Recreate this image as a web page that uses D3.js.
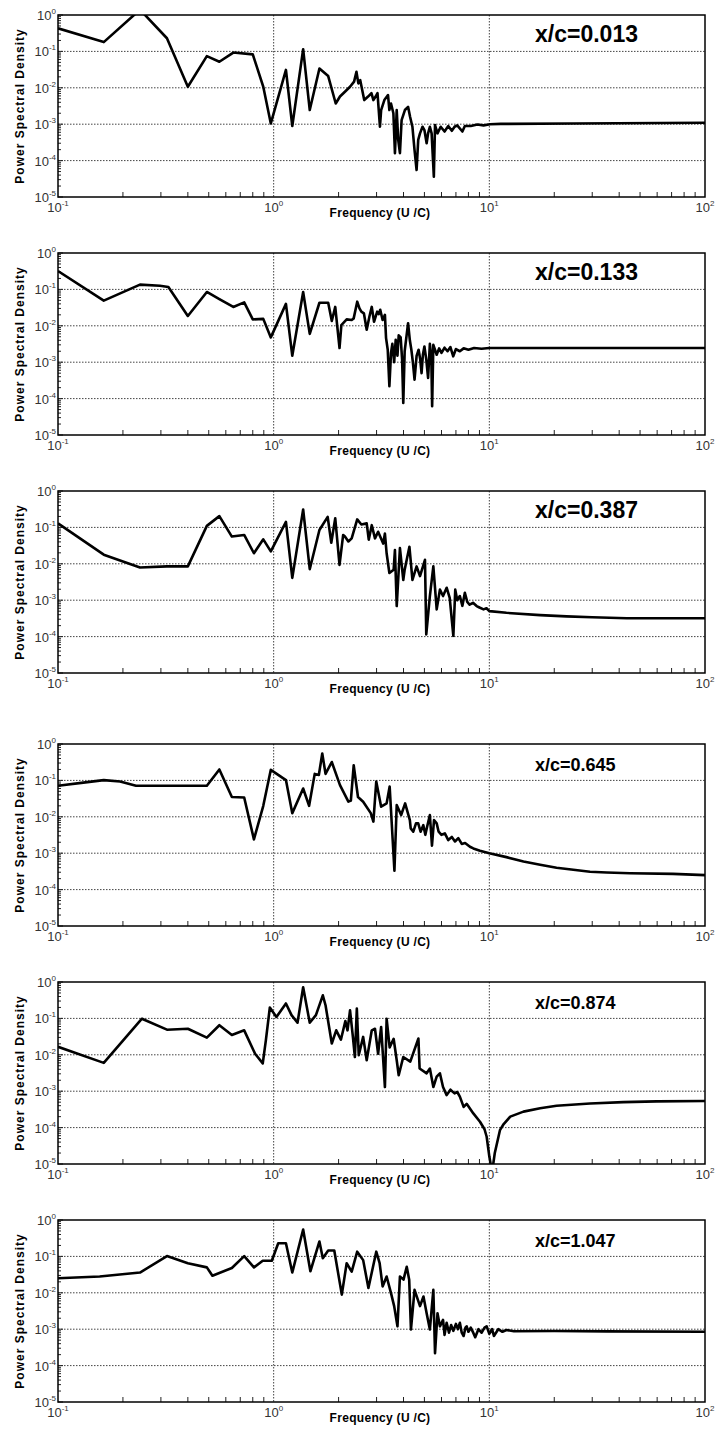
<!DOCTYPE html>
<html>
<head>
<meta charset="utf-8" />
<title>Power spectral density</title>
<script src="https://cdn.jsdelivr.net/npm/d3@7"></script>
<style>
  body { margin: 0; padding: 0; background: #fff; }
  svg { display: block; font-family: "Liberation Sans", Arial, sans-serif; }
</style>
</head>
<body>
<div id="chart"></div>
<script>

// station labels, one per panel
const stations = ['x/c=0.013', 'x/c=0.133', 'x/c=0.387', 'x/c=0.645', 'x/c=0.874', 'x/c=1.047']

// x/c = 0.013
const f013 = [0.1, 0.163, 0.24, 0.32, 0.40, 0.49, 0.56, 0.65, 0.80, 0.895, 0.97, 1.14, 1.22, 1.37, 1.47, 1.63, 1.79, 1.94,
  2.03, 2.14, 2.26, 2.36, 2.42, 2.47, 2.52, 2.63, 2.74, 2.84, 2.90, 2.97, 3.03, 3.11, 3.15, 3.26, 3.39, 3.44, 3.5, 3.59,
  3.65, 3.72, 3.78, 3.85, 3.92, 4.06, 4.2, 4.29, 4.4, 4.5, 4.6, 4.68, 4.77, 4.9, 5.0, 5.12, 5.2, 5.3, 5.4, 5.53, 5.6,
  5.75, 5.95, 6.2, 6.45, 6.7, 6.9, 7.1, 7.5, 7.7, 8.2, 8.8, 9.4, 10.07, 11.3, 24.5, 100]
const p013 = [0.43, 0.18, 1.4, 0.23, 0.0107, 0.074, 0.052, 0.093, 0.083, 0.0107, 1.05e-3, 0.031, 8.9e-4, 0.115, 2.45e-3, 0.034, 0.021, 3.7e-3,
  5.75e-3, 7.8e-3, 0.0107, 0.0148, 0.0275, 0.0132, 0.0162, 4.6e-3, 5.75e-3, 7.1e-3, 4.6e-3, 5.75e-3, 7.1e-3, 8.5e-4, 2.45e-3, 4.6e-3, 6.3e-3, 2.45e-3, 3.7e-3, 2.0e-3,
  1.6e-4, 2.45e-3, 3.7e-4, 1.6e-4, 1.3e-3, 2.45e-3, 3.0e-3, 1.6e-3, 8.5e-4, 1.95e-4, 5.5e-5, 3.7e-4, 5.6e-4, 8.5e-4, 6.9e-4, 3.0e-4, 5.6e-4, 8.5e-4, 5.6e-4, 3.6e-5, 9.5e-4,
  5.6e-4, 8.5e-4, 6.3e-4, 8.9e-4, 6.6e-4, 8.5e-4, 9.3e-4, 6.3e-4, 8.9e-4, 8.9e-4, 9.8e-4, 9.3e-4, 1.0e-3, 1.02e-3, 1.05e-3, 1.1e-3]

// x/c = 0.133
const f133 = [0.1, 0.163, 0.24, 0.297, 0.325, 0.40, 0.49, 0.56, 0.65, 0.73, 0.80, 0.895, 0.97, 1.14, 1.22, 1.37, 1.47, 1.63, 1.79, 1.86, 1.93,
  2.02, 2.06, 2.18, 2.3, 2.35, 2.44, 2.5, 2.55, 2.62, 2.70, 2.78, 2.85, 2.92, 3.02, 3.07, 3.12, 3.2, 3.28, 3.32, 3.38, 3.44, 3.5, 3.55,
  3.62, 3.68, 3.75, 3.8, 3.88, 3.94, 3.99, 4.05, 4.2, 4.28, 4.35, 4.42, 4.5, 4.6, 4.7, 4.78, 4.85, 4.92, 5.0, 5.1, 5.2, 5.3, 5.38, 5.43,
  5.5, 5.7, 5.85, 6.0, 6.2, 6.4, 6.6, 6.8, 7.0, 7.3, 7.6, 8.0, 8.5, 9.2, 10, 100]
const p133 = [0.32, 0.049, 0.135, 0.126, 0.117, 0.0186, 0.085, 0.054, 0.033, 0.044, 0.015, 0.0155, 4.8e-3, 0.040, 1.5e-3, 0.085, 6.0e-3, 0.043, 0.043, 0.0135, 0.033,
  2.45e-3, 0.0105, 0.015, 0.0145, 0.016, 0.046, 0.03, 0.0245, 0.022, 7.8e-3, 0.018, 0.033, 0.0129, 0.0245, 0.021, 0.0275, 0.0145, 0.02, 4.6e-3, 2.2e-3, 2.2e-4, 1.8e-3, 3.2e-3,
  1.0e-3, 4.1e-3, 1.5e-3, 5.5e-3, 4.8e-3, 1.2e-3, 7.6e-5, 2.0e-3, 0.0118, 4.0e-3, 2.2e-3, 1.0e-3, 3.3e-4, 1.5e-3, 2.2e-3, 1.2e-3, 5e-4, 1.6e-3, 2.7e-3, 1.2e-3, 3.7e-4, 3.2e-3, 1.5e-3, 6.2e-5,
  3.0e-3, 1.6e-3, 2.4e-3, 1.8e-3, 2.5e-3, 2.0e-3, 2.6e-3, 1.45e-3, 2.3e-3, 2.0e-3, 2.4e-3, 2.2e-3, 2.45e-3, 2.35e-3, 2.45e-3, 2.45e-3]

// x/c = 0.387
const f387 = [0.1, 0.163, 0.24, 0.32, 0.40, 0.49, 0.56, 0.64, 0.73, 0.81, 0.895, 0.97, 1.14, 1.22, 1.37, 1.47, 1.63, 1.78, 1.85, 1.93,
  2.02, 2.10, 2.14, 2.22, 2.3, 2.44, 2.55, 2.70, 2.76, 2.85, 2.95, 3.05, 3.22, 3.28, 3.34, 3.44, 3.6, 3.65, 3.72, 3.85, 3.99, 4.05,
  4.26, 4.4, 4.6, 4.77, 5.03, 5.1, 5.3, 5.5, 5.7, 5.9, 6.1, 6.34, 6.55, 6.81, 6.95, 7.1, 7.3, 7.5, 7.7, 7.9, 8.1, 8.4, 8.73, 9.0,
  9.4, 9.7, 10, 12, 17.2, 22.8, 30, 43.4, 100]
const p387 = [0.129, 0.0178, 7.9e-3, 8.5e-3, 8.5e-3, 0.11, 0.204, 0.056, 0.062, 0.0195, 0.047, 0.022, 0.141, 4.1e-3, 0.31, 7.1e-3, 0.085, 0.195, 0.038, 0.178,
  9.3e-3, 0.062, 0.056, 0.041, 0.05, 0.166, 0.12, 0.129, 0.046, 0.115, 0.05, 0.076, 0.036, 0.068, 0.0195, 5.6e-3, 6.9e-3, 0.024, 6.9e-4, 0.027, 3.6e-3, 6.9e-3,
  0.0295, 3.6e-3, 8.5e-3, 4.6e-3, 0.0129, 1.15e-4, 1.3e-3, 8.5e-3, 5.6e-4, 1.95e-3, 1.3e-3, 2.2e-3, 1.15e-3, 1.05e-4, 1.95e-3, 1.0e-3, 1.3e-3, 7e-4, 1.6e-3, 9e-4, 7.5e-4, 8.5e-4, 6.9e-4, 6.3e-4,
  5.6e-4, 6e-4, 5e-4, 4.5e-4, 3.9e-4, 3.6e-4, 3.4e-4, 3.2e-4, 3.2e-4]

// x/c = 0.645
const f645 = [0.1, 0.131, 0.163, 0.194, 0.23, 0.32, 0.49, 0.56, 0.64, 0.73, 0.81, 0.895, 0.97, 1.14, 1.22, 1.37, 1.46, 1.55, 1.62, 1.68, 1.74, 1.86,
  2.03, 2.22, 2.28, 2.35, 2.46, 2.6, 2.82, 2.9, 2.99, 3.15, 3.34, 3.45, 3.63, 3.72, 3.9, 4.07, 4.28, 4.32, 4.44, 4.57, 4.68, 4.8, 4.94,
  5.05, 5.15, 5.3, 5.42, 5.54, 5.7, 5.82, 6.0, 6.22, 6.45, 6.7, 6.93, 7.18, 7.45, 7.72, 8.13, 8.43, 9.05,
  10, 12, 14.4, 17.2, 20.5, 24.5, 29.3, 35, 44.9, 71, 100]
const p645 = [0.071, 0.087, 0.102, 0.093, 0.071, 0.071, 0.071, 0.2, 0.035, 0.034, 2.4e-3, 0.02, 0.195, 0.102, 0.0126, 0.06, 0.02, 0.151, 0.141, 0.55, 0.151, 0.32,
  0.074, 0.026, 0.028, 0.26, 0.035, 0.026, 0.0126, 7.4e-3, 0.093, 0.019, 0.0234, 0.068, 3.3e-4, 0.021, 0.0112, 0.0234, 8.1e-3, 4.8e-3, 3.9e-3, 6.6e-3, 6.6e-3, 3.9e-3, 5.9e-3,
  3.2e-3, 5.4e-3, 0.0112, 1.6e-3, 8.1e-3, 6.6e-3, 3.9e-3, 3.2e-3, 3.5e-3, 2.3e-3, 2.8e-3, 2.1e-3, 2.6e-3, 1.8e-3, 1.9e-3, 1.5e-3, 1.35e-3, 1.17e-3,
  1e-3, 7.8e-4, 5.9e-4, 4.8e-4, 4.0e-4, 3.5e-4, 3.1e-4, 2.95e-4, 2.8e-4, 2.7e-4, 2.5e-4]

// x/c = 0.874
const f874 = [0.1, 0.163, 0.245, 0.32, 0.40, 0.49, 0.56, 0.64, 0.73, 0.82, 0.89, 0.92, 0.96, 1.03, 1.14, 1.21, 1.29, 1.37, 1.47, 1.57, 1.69, 1.74, 1.86, 1.95,
  2.05, 2.15, 2.2, 2.26, 2.33, 2.38, 2.43, 2.48, 2.6, 2.70, 2.85, 2.95, 3.05, 3.15, 3.28, 3.34, 3.45, 3.6, 3.72, 3.8, 3.99, 4.3, 4.69, 4.75, 5.12,
  5.3, 5.5, 5.7, 5.9, 6.1, 6.34, 6.6, 6.9, 7.1, 7.3, 7.6, 7.85, 8.43, 9.05, 9.5, 9.72, 10.0, 10.3, 10.6, 11.2, 11.6, 12.5, 14.4, 17.2, 20.5, 29.3, 41.8, 59.6, 100]
const p874 = [0.0166, 6.0e-3, 0.098, 0.049, 0.052, 0.0295, 0.065, 0.035, 0.047, 0.0107, 5.8e-3, 0.025, 0.2, 0.11, 0.257, 0.123, 0.076, 0.72, 0.076, 0.123, 0.43, 0.23, 0.0204, 0.047,
  0.026, 0.085, 0.047, 0.166, 0.031, 8.7e-3, 0.186, 9.8e-3, 0.031, 7.1e-3, 0.047, 0.052, 0.0107, 0.058, 1.3e-3, 0.098, 0.016, 0.0275, 7.1e-3, 2.75e-3, 8.7e-3, 6.5e-3, 0.028, 4.2e-3, 3.1e-3,
  4.2e-3, 1.3e-3, 2.5e-3, 3.1e-3, 1.3e-3, 7.8e-4, 1.1e-3, 8.7e-4, 9.5e-4, 7.1e-4, 3.7e-4, 4.5e-4, 2.45e-4, 1.45e-4, 9e-5, 5.6e-5, 1.6e-5, 6e-6, 2e-5, 8.5e-5, 1.2e-4, 2.0e-4, 2.75e-4, 3.4e-4, 4.0e-4, 4.6e-4, 5.0e-4, 5.25e-4, 5.4e-4]

// x/c = 1.047
const f1047 = [0.1, 0.156, 0.24, 0.32, 0.40, 0.49, 0.52, 0.64, 0.73, 0.81, 0.89, 0.98, 1.05, 1.14, 1.22, 1.37, 1.48, 1.63, 1.69, 1.79, 1.91,
  2.07, 2.18, 2.3, 2.44, 2.6, 2.75, 2.99, 3.1, 3.2, 3.34, 3.5, 3.62, 3.75, 3.85, 4.0, 4.14, 4.25, 4.33, 4.5, 4.77, 4.95, 5.12, 5.3, 5.5, 5.6,
  5.75, 5.9, 6.1, 6.2, 6.34, 6.5, 6.65, 6.81, 7.0, 7.15, 7.3, 7.45, 7.6, 7.75, 7.85, 8.0, 8.2, 8.43, 8.6, 8.9, 9.2, 9.5, 9.72, 10.0, 10.3, 10.5,
  11, 11.5, 12, 13, 20, 35, 100]
const p1047 = [0.025, 0.028, 0.036, 0.102, 0.065, 0.05, 0.0295, 0.048, 0.102, 0.05, 0.076, 0.076, 0.23, 0.23, 0.036, 0.55, 0.039, 0.257, 0.089, 0.145, 0.145,
  8.9e-3, 0.065, 0.038, 0.135, 0.079, 0.0135, 0.135, 0.065, 0.015, 0.028, 9.8e-3, 4.3e-3, 1.2e-3, 0.028, 0.023, 0.052, 0.023, 9.8e-4, 0.012, 4.3e-3, 7.9e-3, 2.75e-3, 9.8e-4, 0.012, 2.2e-4,
  2.75e-3, 1.2e-3, 1.8e-3, 7e-4, 1.5e-3, 8e-4, 1.3e-3, 9e-4, 1.4e-3, 1.0e-3, 1.5e-3, 8e-4, 6.5e-4, 1.1e-3, 1.2e-3, 8.5e-4, 1.1e-3, 7.9e-4, 6.0e-4, 1.0e-3, 8e-4, 1.1e-3, 1.2e-3, 7.5e-4, 1.0e-3, 6.5e-4,
  1.0e-3, 8.5e-4, 9.5e-4, 8.8e-4, 8.9e-4, 8.7e-4, 8.5e-4]

const freqs = [f013, f133, f387, f645, f874, f1047]
const psds = [p013, p133, p387, p645, p874, p1047]

// major ticks (decades)
const xTicks = [0.1, 1, 10, 100]
const yTicks = [1e-5, 1e-4, 1e-3, 1e-2, 1e-1, 1]

// layout
const W = 716, H = 1429
const left = 58, right = 705, ph = 182
const tops = [15, 253, 491, 744, 982, 1220]
const labelSize = [23, 23, 23, 18, 18, 18]

const svg = d3.select('#chart').append('svg')
  .attr('width', W)
  .attr('height', H)

const x = d3.scaleLog().domain([0.1, 100]).range([left, right])

const expOf = v => Math.round(Math.log10(v))
const isMinor = v => Math.abs(Math.log10(v) - expOf(v)) > 1e-6

tops.forEach((top, i) => {
  const bottom = top + ph
  const y = d3.scaleLog().domain([1e-5, 1]).range([bottom, top])
  const g = svg.append('g')

  g.append('clipPath').attr('id', 'clip' + i)
    .append('rect')
    .attr('x', left).attr('y', top)
    .attr('width', right - left).attr('height', ph)

  // dotted grid at decades
  g.selectAll('.hgrid')
    .data(yTicks.slice(1, -1))
    .enter().append('line')
      .attr('x1', left).attr('x2', right)
      .attr('y1', d => y(d)).attr('y2', d => y(d))
      .attr('stroke', '#444')
      .attr('stroke-width', 1)
      .attr('stroke-dasharray', '1.5,1.5')
  g.selectAll('.vgrid')
    .data(xTicks.slice(1, -1))
    .enter().append('line')
      .attr('x1', d => x(d)).attr('x2', d => x(d))
      .attr('y1', top).attr('y2', bottom)
      .attr('stroke', '#444')
      .attr('stroke-width', 1)
      .attr('stroke-dasharray', '1.5,1.5')

  // minor ticks on the bottom axis (pointing up) and on the left (pointing right)
  g.selectAll('.xminor')
    .data(x.ticks().filter(isMinor))
    .enter().append('line')
      .attr('x1', d => x(d)).attr('x2', d => x(d))
      .attr('y1', bottom).attr('y2', bottom - 5)
      .attr('stroke', '#222')
      .attr('stroke-width', 1)
  g.selectAll('.yminor')
    .data(y.ticks())
    .enter().append('line')
      .attr('x1', left).attr('x2', d => left + (isMinor(d) ? 3 : 5))
      .attr('y1', d => y(d)).attr('y2', d => y(d))
      .attr('stroke', '#222')
      .attr('stroke-width', 1)

  // data
  const pts = freqs[i].map((f, k) => [f, psds[i][k]])
  g.append('path')
    .datum(pts)
    .attr('clip-path', 'url(#clip' + i + ')')
    .attr('fill', 'none')
    .attr('stroke', '#000')
    .attr('stroke-width', 2.6)
    .attr('stroke-linejoin', 'round')
    .attr('d', d3.line().x(d => x(d[0])).y(d => y(d[1])))

  // frame
  g.append('rect')
    .attr('x', left).attr('y', top)
    .attr('width', right - left).attr('height', ph)
    .attr('fill', 'none')
    .attr('stroke', '#000')
    .attr('stroke-width', 1.5)

  // y tick labels
  const yl = g.selectAll('.ylab')
    .data(yTicks)
    .enter().append('text')
      .attr('x', left - 2)
      .attr('y', d => y(d) + 5)
      .attr('text-anchor', 'end')
      .attr('font-size', 13)
      .attr('fill', '#333')
  yl.append('tspan').text('10')
  yl.append('tspan').attr('dy', -6).attr('font-size', 8).text(d => expOf(d))

  // x tick labels
  const xl = g.selectAll('.xlab')
    .data(xTicks)
    .enter().append('text')
      .attr('x', d => x(d))
      .attr('y', bottom + 15)
      .attr('text-anchor', 'middle')
      .attr('font-size', 13)
      .attr('fill', '#333')
  xl.append('tspan').text('10')
  xl.append('tspan').attr('dy', -6).attr('font-size', 8).text(d => expOf(d))

  // axis titles
  g.append('text')
    .attr('x', 380).attr('y', bottom + 20)
    .attr('text-anchor', 'middle')
    .attr('font-size', 12)
    .attr('font-weight', 'bold')
    .attr('letter-spacing', 0.3)
    .text('Frequency (U /C)')
  g.append('text')
    .attr('transform', 'translate(24,' + (top + ph / 2) + ') rotate(-90)')
    .attr('text-anchor', 'middle')
    .attr('font-size', 12)
    .attr('font-weight', 'bold')
    .attr('letter-spacing', 1)
    .text('Power Spectral Density')

  // station label
  g.append('text')
    .attr('x', 535).attr('y', top + 27)
    .attr('font-size', labelSize[i])
    .attr('font-weight', 'bold')
    .text(stations[i])
})
</script>
</body>
</html>
